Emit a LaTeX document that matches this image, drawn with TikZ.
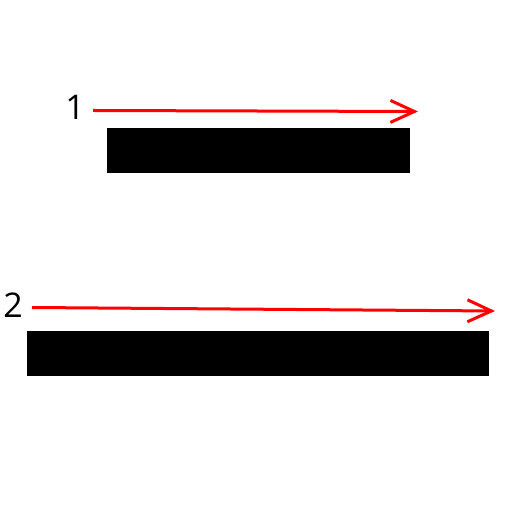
\documentclass[tikz,border=0pt]{standalone}
\usepackage{fontspec}
\setmainfont{Open Sans}
\usetikzlibrary{arrows.meta}
\begin{document}
\begin{tikzpicture}[x=0.5pt,y=-0.5pt,
  bar/.style={fill=black,draw=none},
  ray/.style={draw=red,line width=1.5pt,-{Straight Barb[length=12pt,width=11pt,line width=1.5pt]}},
  tag/.style={font=\fontsize{17}{20}\selectfont,inner sep=0pt}]
\useasboundingbox (0,0) rectangle (512,512);
% upper bar with its label and arrow
\fill[bar] (107,128) rectangle (410,173);
\node[tag] (l1) at (75,107) {1};
\coordinate (a1s) at (93,110.5);
\coordinate (a1e) at (418,111.5);
\draw[ray] (a1s) -- (a1e);
% lower bar with its label and arrow
\fill[bar] (27,331) rectangle (489,376);
\node[tag] (l2) at (13,305) {2};
\coordinate (a2s) at (32,307.5);
\coordinate (a2e) at (495,311);
\draw[ray] (a2s) -- (a2e);
\end{tikzpicture}
\end{document}
